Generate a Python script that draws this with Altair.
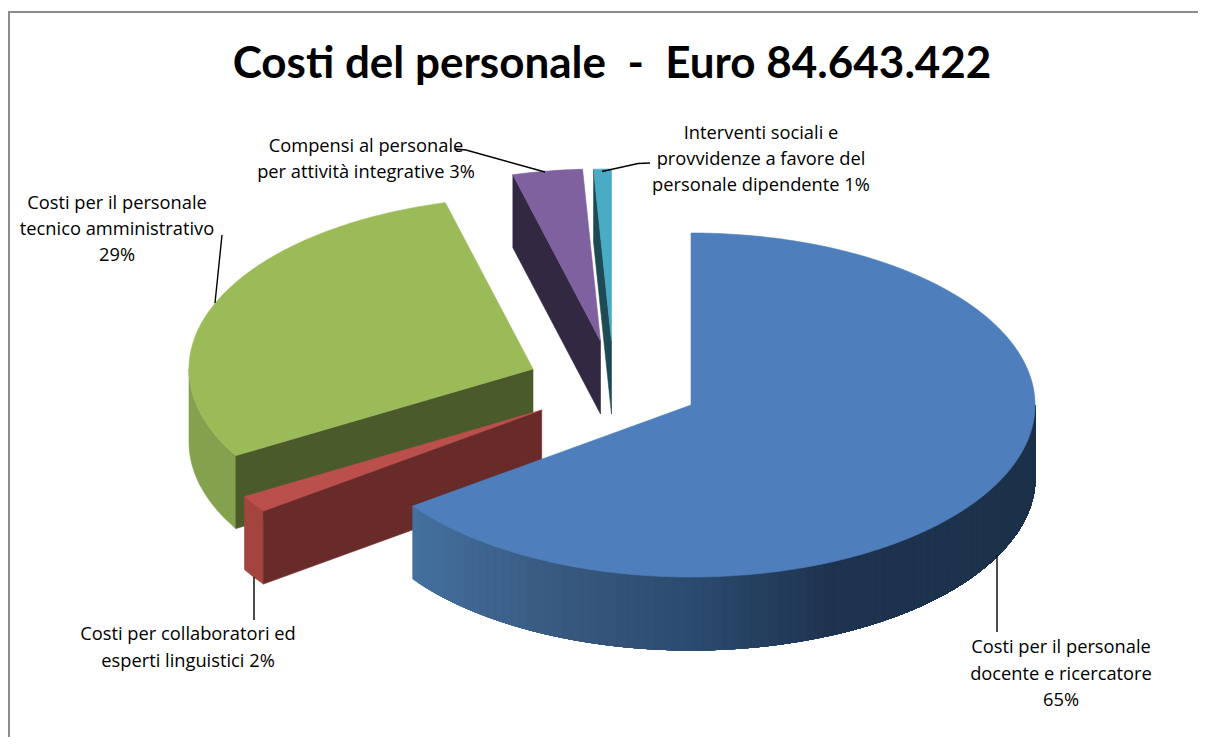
import math
import altair as alt
import pandas as pd

# ---- chart values ----
TITLE = "Costi del personale\u00a0\u00a0-\u00a0\u00a0Euro 84.643.422"
SLICES = ["docente", "linguisti", "tecnico", "integrative", "sociali"]
SHARES = [65, 1.6, 29.3, 3.27, 0.83]
TOP_COLORS = ["#4e7fbc", "#bb4f4c", "#9bbb59", "#7f619f", "#4aabc5"]
SIDE_COLORS = [None, "#a5433f", "#84a24d", None, None]
CUT_COLORS = [None, "#692a2a", "#4b5a2a", "#322842", "#1e4a55"]
LABEL_LINES = [
    "Costi per il personale", "docente e ricercatore", "65%",
    "Costi per collaboratori ed", "esperti linguistici 2%",
    "Costi per il personale", "tecnico amministrativo", "29%",
    "Compensi al personale", "per attività integrative 3%",
    "Interventi sociali e", "provvidenze a favore del", "personale dipendente 1%",
]

# ---- layout (not data) ----
W, H = 1190, 729
RX, RY, DEPTH = 344, 172, 73
CENTERS = [(691, 405), (541.7, 410), (533, 369), (600.5, 341), (611.5, 341)]
LABEL_X = [1061, 1061, 1061, 188, 188, 117, 117, 117, 366, 366, 761, 761, 761]
LABEL_Y = [652.5, 679.5, 705.5, 640, 667, 209, 235, 261, 152, 178, 139, 165, 191]
LEADERS = [
    [(997, 555), (997, 632)],
    [(254, 577), (254, 620)],
    [(222, 235), (215, 303)],
    [(455, 149), (466, 150), (545, 172)],
    [(650, 163), (638, 163.5), (602, 171.5)],
]
FRAME = [(9, 745), (9, 12), (1206, 12)]
BLUE_STOPS = [(413, "#44709f"), (560, "#38597f"), (700, "#2b4a6e"), (830, "#1e3350"), (1036, "#1c3149")]


def pt(c, a, dy=0):
    r = math.radians(a)
    return (c[0] + RX * math.sin(r), c[1] - RY * math.cos(r) + dy)


def arc(c, a0, a1, dy=0, n=None):
    n = n or max(2, int(abs(a1 - a0) * 1.5))
    return [pt(c, a0 + (a1 - a0) * i / n, dy) for i in range(n + 1)]


def mix(x):
    def h(s):
        return [int(s[i:i + 2], 16) for i in (1, 3, 5)]
    for (x0, c0), (x1, c1) in zip(BLUE_STOPS, BLUE_STOPS[1:]):
        if x <= x1:
            t = max(0, (x - x0) / (x1 - x0))
            return "#%02x%02x%02x" % tuple(round(a + (b - a) * t) for a, b in zip(h(c0), h(c1)))
    return BLUE_STOPS[-1][1]


rows, pid = [], 0


def poly(points, color):
    global pid
    pts = list(points) + [points[0]]
    for i, (x, y) in enumerate(pts):
        rows.append({"x": x, "y": y, "p": pid, "i": i, "c": color})
    pid += 1


edges = [0]
for s in SHARES:
    edges.append(edges[-1] + s * 3.6)

# draw order: green, purple, teal, red, blue
for k in [2, 3, 4, 1, 0]:
    c, a0, a1 = CENTERS[k], edges[k], edges[k + 1]
    if k == 0:
        # outer wall: nested shapes painted over each other, left end first
        n = 90
        lo, hi = 90, a1
        for j in range(n, 0, -1):
            s1 = lo + (hi - lo) * j / n
            s_mid = lo + (hi - lo) * (j - 0.5) / n
            poly(arc(c, lo, s1, n=j + 8) + arc(c, s1, lo, DEPTH, n=j + 8), mix(pt(c, s_mid)[0]))
    else:
        if k in (1, 2):
            lo = a0
            hi = min(a1, 270)
            poly(arc(c, lo, hi) + arc(c, hi, lo, DEPTH), SIDE_COLORS[k])
        # the radial cut face that looks towards the viewer
        p = pt(c, a0)
        poly([c, p, (p[0], p[1] + DEPTH), (c[0], c[1] + DEPTH)], CUT_COLORS[k])
    poly([c] + arc(c, a0, a1), TOP_COLORS[k])

df = pd.DataFrame(rows)

x_s = alt.Scale(domain=[8, 8 + W], range=[0, W], nice=False, zero=False)
y_s = alt.Scale(domain=[8, 8 + H], range=[0, H], nice=False, zero=False)
X = lambda f="x": alt.X(f"{f}:Q", scale=x_s, axis=None)
Y = lambda f="y": alt.Y(f"{f}:Q", scale=y_s, axis=None)

pie = alt.Chart(df).mark_line(strokeWidth=0.6, interpolate="linear", clip=False).encode(
    x=X(), y=Y(), order="i:Q", detail="p:N",
    fill=alt.Fill("c:N", scale=None),
    color=alt.Color("c:N", scale=None),
)

lead_rows = [{"x": x, "y": y, "l": n, "i": i} for n, seg in enumerate(LEADERS) for i, (x, y) in enumerate(seg)]
leaders = alt.Chart(pd.DataFrame(lead_rows)).mark_line(color="#000000", strokeWidth=1.4).encode(
    x=X(), y=Y(), order="i:Q", detail="l:N")

frame = alt.Chart(pd.DataFrame([{"x": x, "y": y, "i": i} for i, (x, y) in enumerate(FRAME)])).mark_line(
    color="#8c8c8c", strokeWidth=2, clip=True).encode(x=X(), y=Y(), order="i:Q")

labels = alt.Chart(pd.DataFrame({"x": LABEL_X, "y": LABEL_Y, "t": LABEL_LINES})).mark_text(
    font="Open Sans", fontSize=18.3, baseline="alphabetic", align="center", color="#000000"
).encode(x=X(), y=Y(), text="t:N")

title = alt.Chart(pd.DataFrame({"x": [612], "y": [78], "t": [TITLE]})).mark_text(
    font="Lato", fontSize=44, fontWeight="bold", baseline="alphabetic", align="center", color="#000000"
).encode(x=X(), y=Y(), text="t:N")

chart = alt.layer(frame, pie, leaders, labels, title).properties(
    width=W, height=H, padding=0, autosize=alt.AutoSizeParams(type="none"),
    background="#ffffff"
).configure_view(stroke=None)

chart.save("out.html", embed_options={"renderer": "svg", "actions": False})
